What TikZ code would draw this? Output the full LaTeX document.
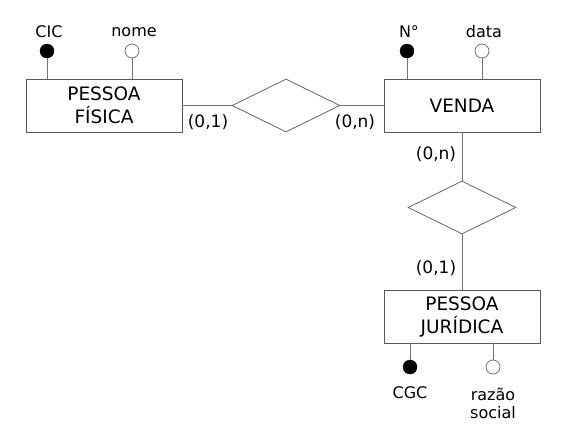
\documentclass[tikz,border=0pt]{standalone}
\usepackage{fontspec}
\setmainfont{DejaVu Sans}
\usetikzlibrary{shapes.geometric}

\begin{document}
\begin{tikzpicture}[x=1pt,y=-1pt,
    entidade/.style={draw=black!65, fill=white, minimum width=156pt, minimum height=53pt,
      align=center, font=\fontsize{18.5}{23}\selectfont, line width=0.8pt},
    relac/.style={draw=black!60, diamond, aspect=2, minimum width=108pt, minimum height=53pt,
      inner sep=0pt, line width=0.8pt},
    ident/.style={circle, draw=black, fill=black, minimum size=14pt, inner sep=0pt},
    atrib/.style={circle, draw=black!55, fill=white, minimum size=14pt, inner sep=0pt, line width=0.8pt},
    rotulo/.style={font=\fontsize{16}{18}\selectfont, inner sep=1pt, align=center},
    card/.style={font=\fontsize{17}{19}\selectfont, inner sep=1pt},
    liga/.style={draw=black!55, line width=0.8pt}]
  \useasboundingbox (0,0) rectangle (571,429);

  \node[entidade] (pf) at (104,105.5) {PESSOA\\FÍSICA};
  \node[entidade] (venda) at (462,105.5) {VENDA};
  \node[entidade] (pj) at (462,316.5) {PESSOA\\JURÍDICA};
  \node[relac] (r1) at (286,105.5) {};
  \node[relac] (r2) at (462,207.5) {};

  \draw[liga] (pf) -- (r1) -- (venda);
  \draw[liga] (venda) -- (r2) -- (pj);

  \foreach \a/\pai/\x/\tipo/\texto in {cic/pf/47/ident/CIC, nome/pf/132/atrib/nome,
      num/venda/407/ident/N°, data/venda/482/atrib/data} {
    \node[\tipo] (\a) at (\x,51) {};
    \node[rotulo] (\a-txt) at (\x+2,32) {\texto};
    \draw[liga] (\a) -- (\a |- \pai.north);
  }

  \foreach \a/\x/\tipo/\y/\texto in {cgc/410/ident/393/CGC, razao/493/atrib/403/{razão\\social}} {
    \node[\tipo] (\a) at (\x,367) {};
    \node[rotulo] (\a-txt) at (\x,\y) {\texto};
    \draw[liga] (\a) -- (\a |- pj.south);
  }

  \node[card] (c1) at (208,122) {(0,1)};
  \node[card] (c2) at (355,122) {(0,n)};
  \node[card] (c3) at (436,154) {(0,n)};
  \node[card] (c4) at (436,268) {(0,1)};
\end{tikzpicture}
\end{document}
